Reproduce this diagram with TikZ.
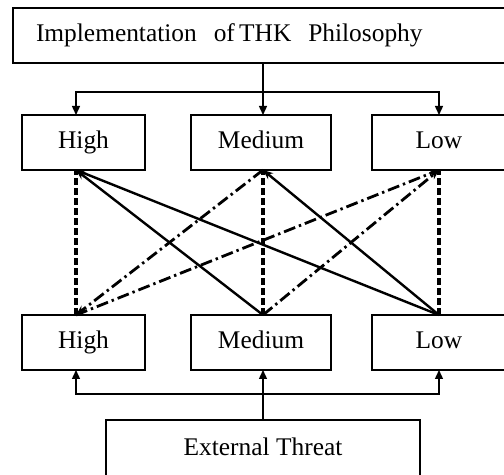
\documentclass[tikz,border=0pt]{standalone}
\usepackage{fontspec}
\setmainfont{Liberation Serif}
\usetikzlibrary{arrows.meta,positioning,calc}

\begin{document}
\begin{tikzpicture}[x=0.5pt,y=-0.5pt,>=Stealth,
  bx/.style={draw,line width=0.7pt,minimum height=27.5pt,inner sep=0pt,
    font=\fontsize{12.7}{14}\selectfont,execute at begin node=\strut},
  sl/.style={line width=1.2pt},
  dsh/.style={line width=1.6pt,dash pattern=on 3.5pt off 1.5pt},
  dd/.style={line width=1.4pt,dash pattern=on 6pt off 2pt on 1.2pt off 2pt},
  tp/.style={-{Stealth[length=5pt,width=4pt]}},
  con/.style={line width=0.7pt,-{Triangle[length=4.5pt,width=4pt]}}]
\useasboundingbox (0,0) rectangle (504,475);
\clip (0,0) rectangle (504,475);
% boxes
\node[bx,minimum width=250pt,inner xsep=11.5pt,text width=227pt,align=left] (imp) at (263,35.5) {Implementation\ \ of\,THK\ \ Philosophy};
\node[bx,minimum width=61.5pt] (hi1) at (83.5,142.5) {High};
\node[bx,minimum width=70pt] (me1) at (261,142.5) {Medium};
\node[bx,minimum width=67pt] (lo1) at (439,142.5) {Low};
\node[bx,minimum width=61.5pt] (hi2) at (83.5,342.5) {High};
\node[bx,minimum width=70pt] (me2) at (261,342.5) {Medium};
\node[bx,minimum width=67pt] (lo2) at (439,342.5) {Low};
\node[bx,minimum width=157pt,minimum height=30pt] (ext) at (263,450) {External Threat};
% anchor points
\foreach \b/\x in {hi/76,me/263,lo/439}{
  \coordinate (\b1t) at (\x,115); \coordinate (\b1b) at (\x,170);
  \coordinate (\b2t) at (\x,315); \coordinate (\b2b) at (\x,370);}
\coordinate (sp1) at (263,92);
\coordinate (sp2) at (263,394);
% top and bottom feeds
\draw[line width=0.7pt] (imp.south) -- (sp1);
\draw[con] (sp1) -- (me1t);
\draw[con] (sp1) -| (hi1t);
\draw[con] (sp1) -| (lo1t);
\draw[line width=0.7pt] (ext.north) -- (sp2);
\draw[con] (sp2) -- (me2b);
\draw[con] (sp2) -| (hi2b);
\draw[con] (sp2) -| (lo2b);
% links between levels
\foreach \b in {hi,me,lo}
  \draw[dsh] (\b2t) -- (\b1b);
\draw[sl,tp] (me2t) -- (hi1b);
\draw[sl,tp] (lo2t) -- (hi1b);
\draw[sl,tp] (lo2t) -- (me1b);
\draw[dd,tp] (me1b) -- (hi2t);
\draw[dd,tp] (hi2t) -- (lo1b);
\draw[dd,tp] (me2t) -- (lo1b);
\end{tikzpicture}
\end{document}
